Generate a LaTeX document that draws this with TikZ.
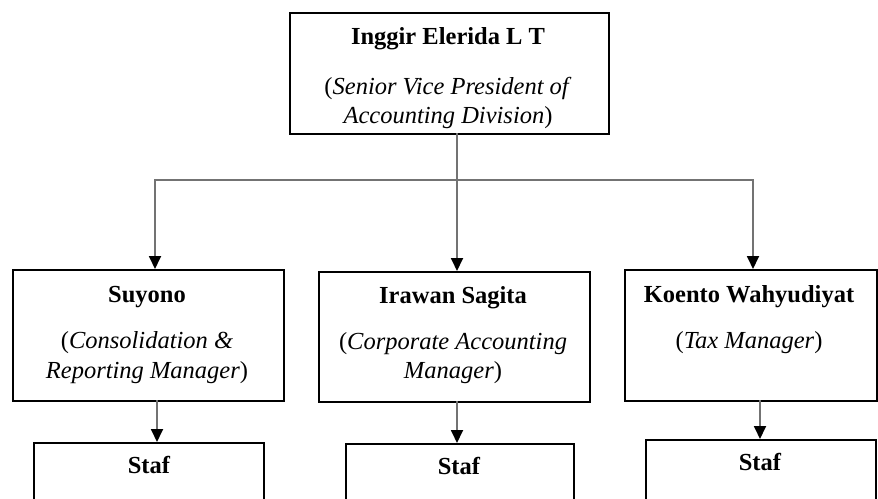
\documentclass[tikz,border=0pt]{standalone}
\usepackage{fontspec}
\setmainfont{Liberation Serif}
\usetikzlibrary{arrows.meta}
\begin{document}
\begin{tikzpicture}[x=1pt,y=-1pt,
  box/.style={draw=black, line width=2pt, inner sep=0pt, anchor=north west, fill=white},
  txt/.style={anchor=base, inner sep=0pt, font=\fontsize{24.5}{30}\selectfont},
  conn/.style={draw=black!55, line width=1.8pt},
  arr/.style={conn, -{Triangle[width=12pt,length=13pt,color=black]}}]
\useasboundingbox (0,0) rectangle (878,498);
\clip (0,0) rectangle (878,498);
% boxes
\node[box, minimum width=319pt, minimum height=121pt] (top) at (289,12) {};
\node[box, minimum width=271pt, minimum height=131pt] (suy) at (12,269) {};
\node[box, minimum width=271pt, minimum height=130pt] (ira) at (318,271) {};
\node[box, minimum width=252pt, minimum height=131pt] (koe) at (624,269) {};
\node[box, minimum width=230pt, minimum height=80pt] (s1) at (33,442) {};
\node[box, minimum width=228pt, minimum height=80pt] (s2) at (345,443) {};
\node[box, minimum width=230pt, minimum height=80pt] (s3) at (645,439) {};
% texts
\node[txt] (ta) at (448,44) {\textbf{Inggir Elerida L T}};
\node[txt] (tb) at (448,94) {(\textit{Senior Vice President of}};
\node[txt] (tc) at (448,123) {\textit{Accounting Division})};
\node[txt] (sa) at (147,302) {\textbf{Suyono}};
\node[txt] (sb) at (147,348) {(\textit{Consolidation \&}};
\node[txt] (sc) at (147,378) {\textit{Reporting Manager})};
\node[txt] (ia) at (453,303) {\textbf{Irawan Sagita}};
\node[txt] (ib) at (453,349) {(\textit{Corporate Accounting}};
\node[txt] (ic) at (453,378) {\textit{Manager})};
\node[txt] (ka) at (749,302) {\textbf{Koento Wahyudiyat}};
\node[txt] (kb) at (749,348) {(\textit{Tax Manager})};
\node[txt] (f1) at (149,473) {\textbf{Staf}};
\node[txt] (f2) at (459,474) {\textbf{Staf}};
\node[txt] (f3) at (760,470) {\textbf{Staf}};
% connectors
\coordinate (src) at (457,133);
\coordinate (jm) at (457,180);
\coordinate (jl) at (155,180);
\coordinate (jr) at (753,180);
\draw[conn] (src) -- (jm);
\draw[conn, line cap=rect] (jl) -- (jr);
\draw[arr] (jl) -- (jl |- suy.north);
\draw[arr] (jm) -- (jm |- ira.north);
\draw[arr] (jr) -- (jr |- koe.north);
\coordinate (d1) at (157,400);
\coordinate (d2) at (457,401);
\coordinate (d3) at (760,400);
\draw[arr] (d1) -- (d1 |- s1.north);
\draw[arr] (d2) -- (d2 |- s2.north);
\draw[arr] (d3) -- (d3 |- s3.north);
\end{tikzpicture}
\end{document}
